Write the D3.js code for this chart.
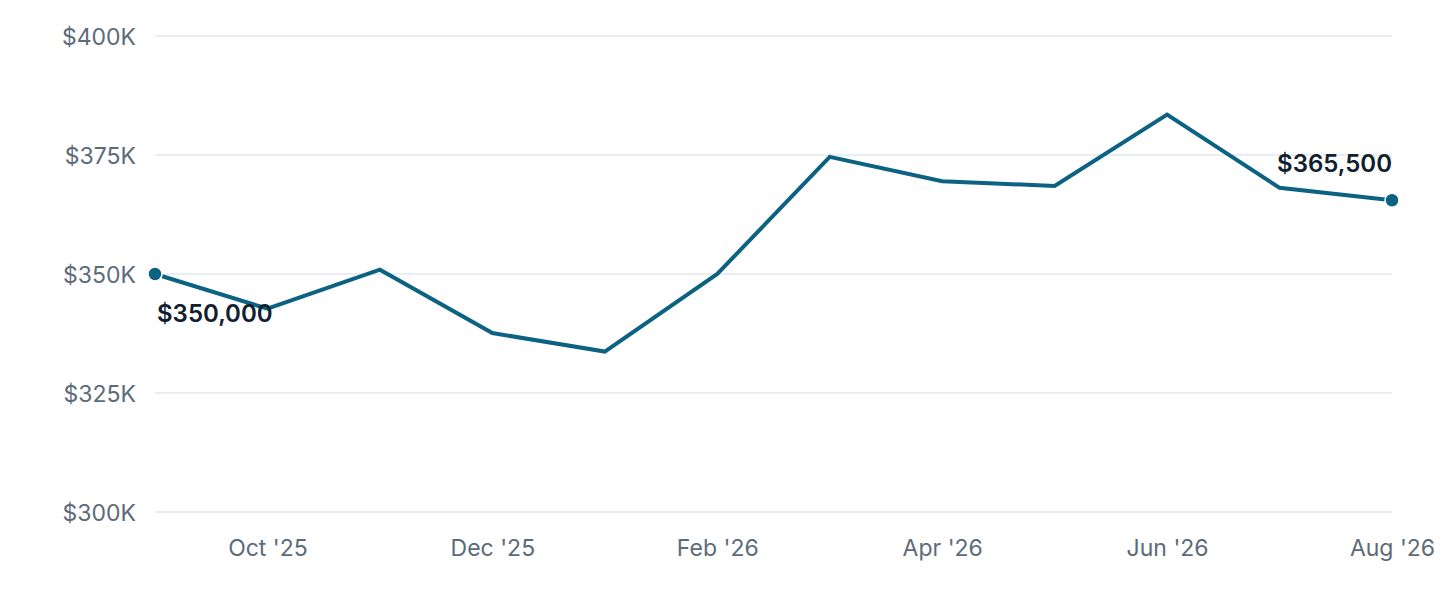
<!DOCTYPE html>
<html>
<head>
<meta charset="utf-8">
<script src="https://cdn.jsdelivr.net/npm/d3@7"></script>
<style>
  html, body { margin: 0; padding: 0; background: #ffffff; }
  svg { display: block; }
</style>
</head>
<body>
<svg id="chart" width="1440" height="600"></svg>
<script>
const months = ["Sep '25","Oct '25","Nov '25","Dec '25","Jan '26","Feb '26","Mar '26","Apr '26","May '26","Jun '26","Jul '26","Aug '26"];
const prices = [350000, 342700, 350900, 337600, 333700, 350000, 374600, 369500, 368500, 383500, 368100, 365500];
const yTicks = [300000, 325000, 350000, 375000, 400000];
const xTickLabels = ["Oct '25","Dec '25","Feb '26","Apr '26","Jun '26","Aug '26"];

(function () {
const svg = d3.select("#chart");
const mLeft = 155, mRight = 1392, mTop = 36, mBottom = 512;
const font = "Inter, 'Noto Sans', sans-serif";

const x = d3.scalePoint().domain(months).range([mLeft, mRight]);
const y = d3.scaleLinear().domain([300000, 400000]).range([mBottom, mTop]);

// grid
svg.append("g").selectAll("line").data(yTicks).join("line")
  .attr("x1", mLeft).attr("x2", mRight)
  .attr("y1", d => y(d)).attr("y2", d => y(d))
  .attr("stroke", "#e3e8ee").attr("stroke-width", 1.5);

// y axis
const yAxis = d3.axisLeft(y).tickValues(yTicks).tickSize(0).tickPadding(0)
  .tickFormat(d => "$" + d3.format(",")(d / 1000) + "K");
const gy = svg.append("g").attr("transform", `translate(136,0)`).call(yAxis);
gy.select(".domain").remove();
gy.selectAll("text").attr("font-family", font).attr("font-size", 23)
  .attr("fill", "#5c6b7a").attr("dy", "0.36em");

// x axis
const xAxis = d3.axisBottom(x).tickValues(xTickLabels).tickSize(0).tickPadding(0);
const gx = svg.append("g").attr("transform", `translate(0,${mBottom})`).call(xAxis);
gx.select(".domain").remove();
gx.selectAll("text").attr("font-family", font).attr("font-size", 23)
  .attr("fill", "#5c6b7a").attr("dy", 0).attr("y", 44);

// line
const line = d3.line().x((d, i) => x(months[i])).y(d => y(d));
svg.append("path").datum(prices)
  .attr("d", line).attr("fill", "none")
  .attr("stroke", "#0b6282").attr("stroke-width", 4)
  .attr("stroke-linejoin", "miter");

// endpoints
const ends = [0, prices.length - 1];
svg.append("g").selectAll("circle").data(ends).join("circle")
  .attr("cx", i => x(months[i])).attr("cy", i => y(prices[i]))
  .attr("r", 7).attr("fill", "#0b6282")
  .attr("stroke", "#fff").attr("stroke-width", 1.5);

const fmt = d => "$" + d3.format(",")(d);
svg.append("text")
  .attr("x", x(months[0]) + 2).attr("y", y(prices[0]) + 48)
  .attr("font-family", font).attr("font-size", 24).attr("font-weight", 600)
  .attr("fill", "#10202e").text(fmt(prices[0]));
svg.append("text")
  .attr("x", x(months[months.length - 1])).attr("y", y(prices[prices.length - 1]) - 28)
  .attr("text-anchor", "end")
  .attr("font-family", font).attr("font-size", 24).attr("font-weight", 600)
  .attr("fill", "#10202e").text(fmt(prices[prices.length - 1]));
})();
</script>
</body>
</html>
